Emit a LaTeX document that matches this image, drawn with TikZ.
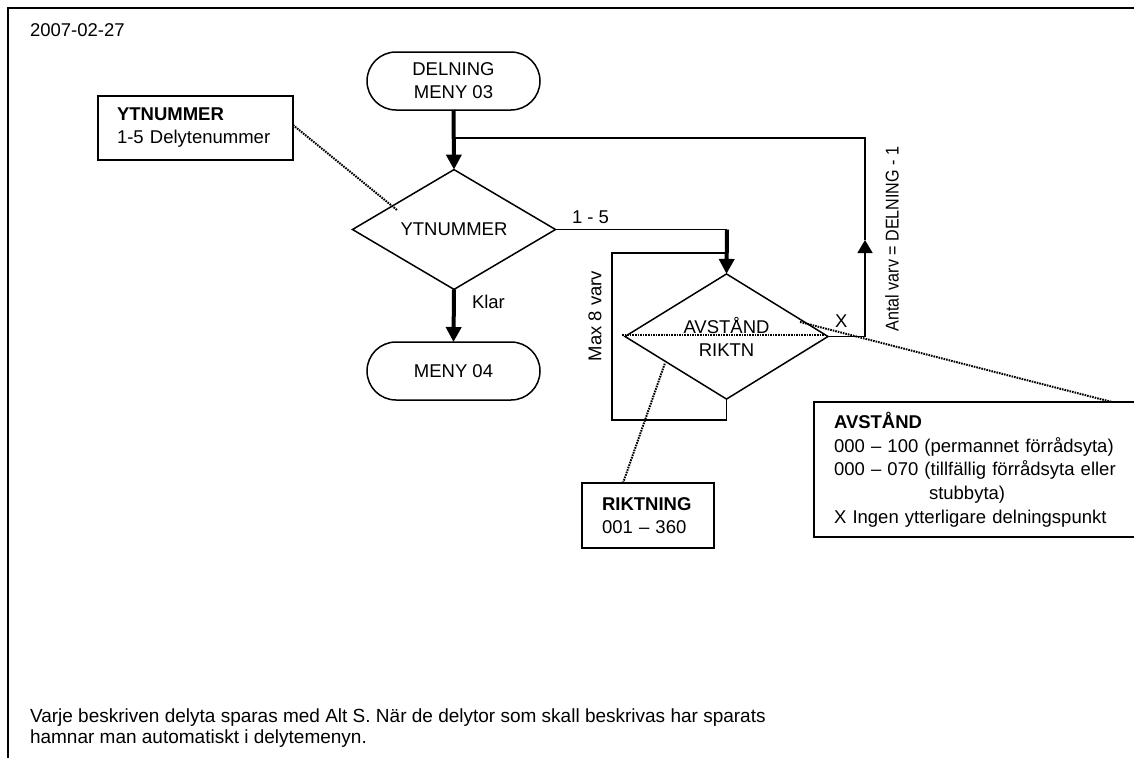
\documentclass[tikz,border=0pt]{standalone}
\usepackage{fontspec}
\setmainfont{Liberation Sans}
\usetikzlibrary{shapes.geometric,arrows.meta}
\begin{document}
\begin{tikzpicture}[x=1pt,y=-1pt,
  every node/.style={font=\fontsize{18.5}{23}\selectfont, inner sep=0pt, outer sep=0pt},
  thinline/.style={line width=1.5pt},
  flow/.style={line width=4pt, -{Triangle[width=15pt,length=15pt]}},
  backflow/.style={line width=1.5pt, -{Triangle[width=15pt,length=13pt]}},
  callout/.style={line width=2pt, dash pattern=on 1.6pt off 1pt},
  term/.style={draw, line width=1.5pt, rounded corners=29pt, minimum width=173pt, minimum height=58pt, align=center},
  dec/.style={draw, diamond, line width=1.5pt, minimum width=203pt, minimum height=103pt, align=center},
  note/.style={draw, line width=1.5pt, align=left, anchor=north west, inner xsep=19pt},
  lbl/.style={anchor=base west}]
\clip (0,0) rectangle (1134,758);
\fill[white] (0,0) rectangle (1134,758);
% frame
\draw[thinline] (8,758) -- (8,8) -- (1134,8);
\node[lbl] (date) at (30,36) {2007-02-27};
% nodes
\node[term] (d03) at (453.5,81) {DELNING\\MENY 03};
\node[dec] (ytd) at (454,229.5) {YTNUMMER};
\node[term] (m04) at (453.5,371) {MENY 04};
\node[dec] (avd) at (726.5,336.5) {AVST\AA ND\\RIKTN};
\node[note, minimum width=195pt, minimum height=64pt, text width=157pt] (ytn) at (98,96) {\textbf{YTNUMMER}\\1-5 Delytenummer};
\node[note, minimum width=130pt, minimum height=65pt, text width=92pt, inner xsep=20pt] (rikt) at (582,483) {\textbf{RIKTNING}\\001 -- 360};
\node[note, minimum width=340pt, minimum height=135pt, text width=300pt, font=\fontsize{18.5}{23.7}\selectfont] (avs) at (814,402)
  {\textbf{AVST\AA ND}\\000 -- 100 (permannet f\"orr\aa dsyta)\\000 -- 070 (tillf\"allig f\"orr\aa dsyta eller\\\hspace*{95pt}stubbyta)\\X Ingen ytterligare delningspunkt};
% helper coordinates
\coordinate (c15) at (727,229.5);
\coordinate (loopbl) at (612,420);
\coordinate (loopin) at (727,253);
\coordinate (xr) at (865,336.5);
\coordinate (xup) at (865,240);
\coordinate (topr) at (865,138);
\coordinate (topl) at (454,138);
% connectors
\draw[flow] (d03.south) -- (ytd.north);
\draw[flow] (ytd.south) -- (m04.north);
\draw[thinline] (ytd.east) -- (c15);
\draw[flow] (c15) -- (avd.north);
\draw[thinline] (avd.south) |- (loopbl) |- (loopin);
\draw[thinline] (avd.east) -- (xr);
\draw[backflow] (xr) -- (xup);
\draw[thinline] (xup) -- (topr) -- (topl);
% labels
\node[lbl] (l15) at (572,223) {1 - 5};
\node[lbl] (lklar) at (472,308) {Klar};
\node[lbl] (lx) at (835,327) {X};
\node[rotate=90] (lmax) at (595,316) {Max 8 varv};
\node[rotate=90] (lantal) at (892,239) {\scalebox{0.87}[1]{Antal varv = DELNING - 1}};
% callouts
\coordinate (ytcall) at (397,210);
\coordinate (avl) at (622,335);
\coordinate (avr) at (827,335);
\coordinate (avcall) at (800,322);
\coordinate (rkcall) at (665,363);
\draw[callout] (ytn.east |- 0,125) -- (ytcall);
\draw[callout] (avl) -- (avr);
\draw[callout] (avcall) -- (1112,402);
\draw[callout] (623,483) -- (rkcall);
% bottom text
\node[lbl, font=\fontsize{19}{21}\selectfont] (foot) at (30,722) {Varje beskriven delyta sparas med Alt S. N\"ar de delytor som skall beskrivas har sparats};
\node[lbl, font=\fontsize{19}{21}\selectfont] (foot2) at (30,743) {hamnar man automatiskt i delytemenyn.};
\end{tikzpicture}
\end{document}
